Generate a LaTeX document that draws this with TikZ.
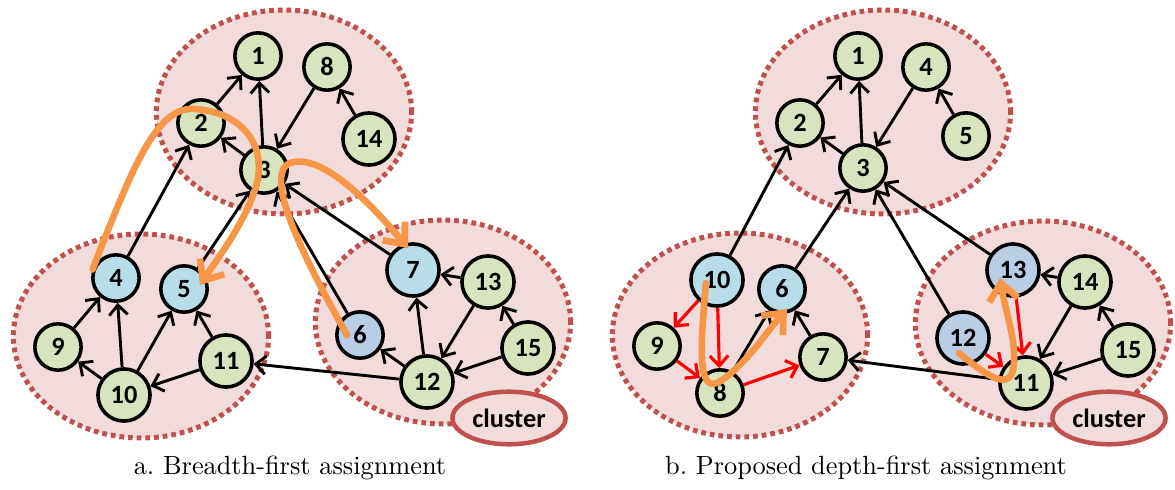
\documentclass[tikz,border=0pt]{standalone}
\usepackage{fontspec}
\usepackage{tikz}
\usetikzlibrary{shapes,arrows,positioning,calc,arrows.meta}
\newfontfamily\nodefont{Carlito}

\definecolor{leafgreen}{HTML}{D7E4BD}
\definecolor{lightcyan}{HTML}{B7DEE8}
\definecolor{greyblue}{HTML}{B9CDE5}
\definecolor{clusterfill}{HTML}{F2DCDB}
\definecolor{clusterline}{HTML}{C0504D}
\definecolor{walkorange}{HTML}{F79646}

\begin{document}
\begin{tikzpicture}[
      x=0.38pt, y=-0.38pt,
      vertex/.style={circle, draw=black, line width=1.35pt, fill=leafgreen, minimum size=17.6pt, inner sep=0pt, font=\nodefont\bfseries\fontsize{10}{10}\selectfont},
      big/.style={minimum size=19.8pt},
      picked/.style={fill=lightcyan},
      moved/.style={fill=greyblue},
      cluster/.style={ellipse, draw=clusterline, fill=clusterfill, line width=1.9pt, dash pattern=on 1.8pt off 1.5pt, minimum width=97pt, minimum height=77.5pt},
      tag/.style={ellipse, draw=clusterline, fill=clusterfill, line width=1.7pt, minimum width=43pt, minimum height=20pt, inner sep=0pt, font=\nodefont\bfseries\fontsize{10}{10}\selectfont},
      edge/.style={line width=1.1pt, -{Straight Barb[length=3.8pt,width=7pt]}},
      redge/.style={edge, red, line width=1.2pt},
      walk/.style={walkorange, line width=2.5pt, line cap=round, -{Straight Barb[length=6.5pt,width=11pt]}},
    ]
    \useasboundingbox (0,0) rectangle (1175,489);
    % a. breadth-first: clusters
    \node [cluster] (ctopA) at (284,112) {};
    \node [cluster] (cleftA) at (141,336) {};
    \node [cluster] (crightA) at (443,322) {};
    \node [tag] (tagA) at (509,418) {cluster};
    % a. breadth-first: vertices
    \node [vertex] (a1) at (258,56) {1};
    \node [vertex] (a2) at (201,123) {2};
    \node [vertex] (a3) at (264,170) {3};
    \node [vertex, picked] (a4) at (116,278) {4};
    \node [vertex, picked] (a5) at (184,289) {5};
    \node [vertex, moved] (a6) at (360,335) {6};
    \node [vertex, picked, big] (a7) at (413,270) {7};
    \node [vertex] (a8) at (327,67) {8};
    \node [vertex] (a9) at (58,347) {9};
    \node [vertex, big] (a10) at (124,395) {10};
    \node [vertex, big] (a11) at (226,361) {11};
    \node [vertex, big] (a12) at (427,382) {12};
    \node [vertex, big] (a13) at (488,282) {13};
    \node [vertex, big] (a14) at (369,139) {14};
    \node [vertex, big] (a15) at (528,348) {15};
    \draw [edge] (a2) -- (a1);
    \draw [edge] (a3) -- (a1);
    \draw [edge] (a8) -- (a3);
    \draw [edge] (a14) -- (a8);
    \draw [edge] (a3) -- (a2);
    \draw [edge] (a4) -- (a2);
    \draw [edge] (a5) -- (a3);
    \draw [edge] (a6) -- (a3);
    \draw [edge] (a7) -- (a3);
    \draw [edge] (a9) -- (a4);
    \draw [edge] (a10) -- (a4);
    \draw [edge] (a10) -- (a5);
    \draw [edge] (a10) -- (a9);
    \draw [edge] (a11) -- (a10);
    \draw [edge] (a11) -- (a5);
    \draw [edge] (a12) -- (a11);
    \draw [edge] (a12) -- (a6);
    \draw [edge] (a12) -- (a7);
    \draw [edge] (a13) -- (a7);
    \draw [edge] (a13) -- (a12);
    \draw [edge] (a15) -- (a13);
    \draw [edge] (a15) -- (a12);
    \draw [walk] (a4.160) .. controls (135,160) and (158,106) .. (195,109)
      .. controls (250,113) and (270,155) .. (253,195)
      .. controls (240,230) and (215,262) .. ([shift={(16,-4)}]a5.center);
    \draw [walk] ([shift={(-13,0)}]a6.center) .. controls (305,260) and (262,175) .. (290,163)
      .. controls (322,152) and (372,205) .. ([shift={(-5,-22)}]a7.center);
    \node (capA) at (290,468) {a.\ Breadth-first assignment};

    % b. depth-first: clusters
    \node [cluster] (ctopB) at (883,112) {};
    \node [cluster] (cleftB) at (740,335) {};
    \node [cluster] (crightB) at (1043,323) {};
    \node [tag] (tagB) at (1109,418) {cluster};
    % b. depth-first: vertices
    \node [vertex] (b1) at (858,56) {1};
    \node [vertex] (b2) at (800,123) {2};
    \node [vertex] (b3) at (863,168) {3};
    \node [vertex] (b4) at (926,67) {4};
    \node [vertex] (b5) at (966,136) {5};
    \node [vertex, picked] (b6) at (782,289) {6};
    \node [vertex] (b7) at (823,357) {7};
    \node [vertex] (b8) at (720,393) {8};
    \node [vertex] (b9) at (657,346) {9};
    \node [vertex, picked, big] (b10) at (717,280) {10};
    \node [vertex, big] (b11) at (1026,383) {11};
    \node [vertex, moved, big] (b12) at (963,338) {12};
    \node [vertex, moved, big] (b13) at (1013,270) {13};
    \node [vertex, big] (b14) at (1085,282) {14};
    \node [vertex, big] (b15) at (1128,350) {15};
    \draw [edge] (b2) -- (b1);
    \draw [edge] (b3) -- (b1);
    \draw [edge] (b4) -- (b3);
    \draw [edge] (b5) -- (b4);
    \draw [edge] (b3) -- (b2);
    \draw [edge] (b10) -- (b2);
    \draw [edge] (b6) -- (b3);
    \draw [edge] (b12) -- (b3);
    \draw [edge] (b13) -- (b3);
    \draw [edge] (b7) -- (b6);
    \draw [edge] (b8) -- (b6);
    \draw [edge] (b11) -- (b7);
    \draw [edge] (b14) -- (b13);
    \draw [edge] (b14) -- (b11);
    \draw [edge] (b15) -- (b14);
    \draw [edge] (b15) -- (b11);
    \draw [redge] (b10) -- (b9);
    \draw [redge] (b10) -- (b8);
    \draw [redge] (b9) -- (b8);
    \draw [redge] (b8) -- (b7);
    \draw [redge] (b12) -- (b11);
    \draw [redge] (b13) -- (b11);
    \draw [walk] ([shift={(-11,3)}]b10.center) .. controls (700,350) and (697,398) .. (722,380)
      .. controls (748,362) and (768,330) .. ([shift={(5,20)}]b6.center);
    \draw [walk] ([shift={(-4,15)}]b12.center) .. controls (982,372) and (1008,392) .. (1013,370)
      .. controls (1018,345) and (1006,315) .. ([shift={(-13,8)}]b13.center);
    \node (capB) at (866,468) {b.\ Proposed depth-first assignment};
  \end{tikzpicture}
\end{document}
